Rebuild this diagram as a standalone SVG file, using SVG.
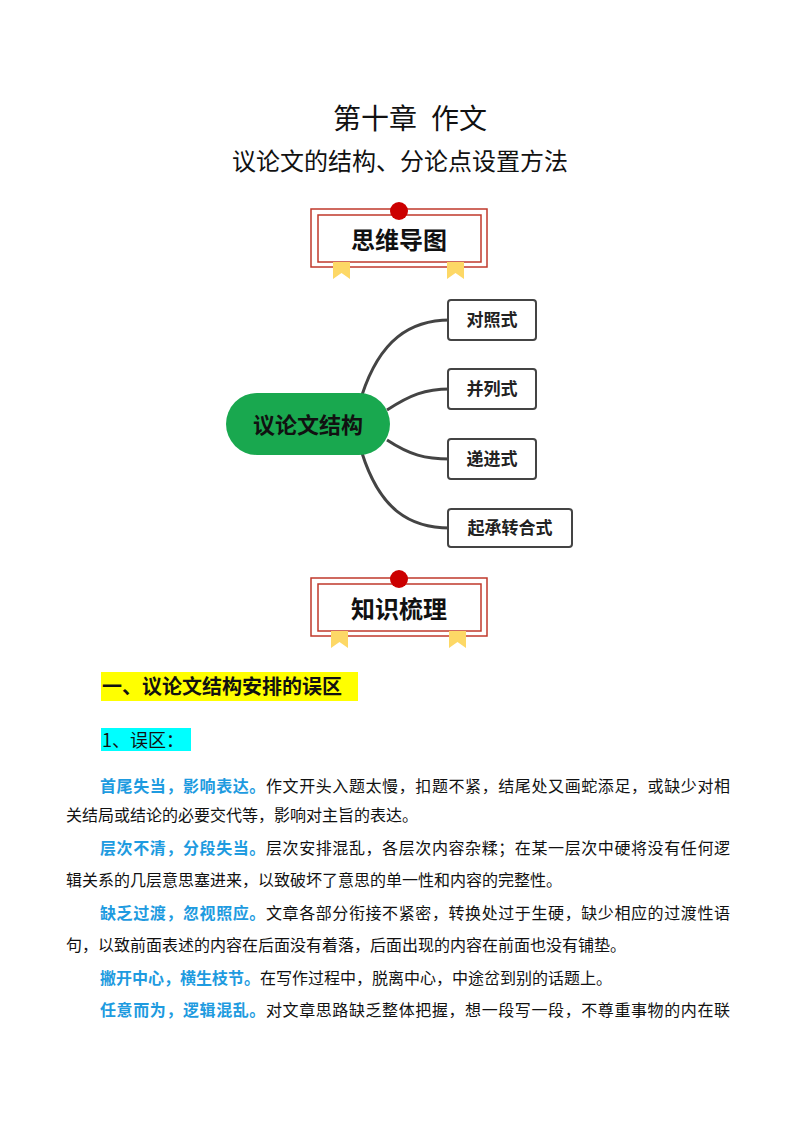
<svg xmlns="http://www.w3.org/2000/svg" width="800" height="1132" viewBox="0 0 800 1132">
<style>
text{font-family:"Noto Sans CJK SC","Liberation Sans",sans-serif;fill:#111}
.ser{font-family:"Noto Sans CJK SC",serif}
.node{fill:#fff;stroke:#444;stroke-width:2}
.nt{font-size:17px;font-weight:bold;text-anchor:middle;fill:#222}
.b{font-size:16px}
.hl{fill:#1e9be0;font-weight:bold}
.con{fill:none;stroke:#444;stroke-width:3}
.rib{fill:#fdd866}
</style>
<text x="333" y="129" font-size="28">第十章<tspan dx="14">作文</tspan></text>
<text x="400" y="170" font-size="24" text-anchor="middle">议论文的结构、分论点设置方法</text>

<g id="banner1">
<rect x="311" y="209" width="176" height="58" fill="#fff" stroke="#c0392b" stroke-width="1.5"/>
<rect x="318" y="215" width="163" height="47" fill="none" stroke="#c0392b" stroke-width="1.5"/>
<circle cx="399" cy="211" r="9" fill="#c00"/>
<path class="rib" d="M333 262h17v17l-8.5-6-8.5 6z"/>
<path class="rib" d="M447 262h17v17l-8.5-6-8.5 6z"/>
<text x="399" y="249" font-size="24" font-weight="bold" text-anchor="middle" fill="#222">思维导图</text>
</g>

<g id="connectors">
<path class="con" d="M362 395 C380 340,410 320,450 320"/>
<path class="con" d="M387 410 C410 395,425 389,450 389"/>
<path class="con" d="M387 440 C410 455,425 459,450 459"/>
<path class="con" d="M362 453 C380 510,410 528,450 528"/>
</g>
<g id="root">
<rect x="226" y="393" width="164" height="62" rx="31" fill="#19a84f"/>
<text x="308" y="433" font-size="22" font-weight="bold" text-anchor="middle" fill="#fff">议论文结构</text>
</g>
<g id="n1"><rect class="node" x="448" y="300" width="88" height="40" rx="3"/><text class="nt" x="492" y="326">对照式</text></g>
<g id="n2"><rect class="node" x="448" y="369" width="88" height="40" rx="3"/><text class="nt" x="492" y="395">并列式</text></g>
<g id="n3"><rect class="node" x="448" y="439" width="88" height="40" rx="3"/><text class="nt" x="492" y="465">递进式</text></g>
<g id="n4"><rect class="node" x="448" y="509" width="124" height="38" rx="3"/><text class="nt" x="510" y="534">起承转合式</text></g>

<g id="banner2">
<rect x="311" y="578" width="176" height="58" fill="#fff" stroke="#c0392b" stroke-width="1.5"/>
<rect x="318" y="584" width="163" height="47" fill="none" stroke="#c0392b" stroke-width="1.5"/>
<circle cx="399" cy="579" r="9" fill="#c00"/>
<path class="rib" d="M331 631h17v17l-8.5-6-8.5 6z"/>
<path class="rib" d="M449 631h17v17l-8.5-6-8.5 6z"/>
<text x="399" y="618" font-size="24" font-weight="bold" text-anchor="middle" fill="#222">知识梳理</text>
</g>

<rect x="101" y="672" width="257" height="29" fill="#ffff00"/>
<text x="102" y="694" font-size="20" font-weight="bold">一、议论文结构安排的误区</text>
<rect x="101" y="728" width="90" height="23" fill="#00ffff"/>
<text x="102" y="747" font-size="18" class="ser" fill="#222">1、误区：</text>

<g class="b">
<text class="b" x="100" y="792" textLength="630" lengthAdjust="spacing"><tspan class="hl">首尾失当，影响表达。</tspan>作文开头入题太慢，扣题不紧，结尾处又画蛇添足，或缺少对相</text>
<text class="b" x="66" y="821">关结局或结论的必要交代等，影响对主旨的表达。</text>
<text class="b" x="100" y="854" textLength="630" lengthAdjust="spacing"><tspan class="hl">层次不清，分段失当。</tspan>层次安排混乱，各层次内容杂糅；在某一层次中硬将没有任何逻</text>
<text class="b" x="66" y="886">辑关系的几层意思塞进来，以致破坏了意思的单一性和内容的完整性。</text>
<text class="b" x="100" y="919" textLength="630" lengthAdjust="spacing"><tspan class="hl">缺乏过渡，忽视照应。</tspan>文章各部分衔接不紧密，转换处过于生硬，缺少相应的过渡性语</text>
<text class="b" x="66" y="951">句，以致前面表述的内容在后面没有着落，后面出现的内容在前面也没有铺垫。</text>
<text class="b" x="100" y="984"><tspan class="hl">撇开中心，横生枝节。</tspan>在写作过程中，脱离中心，中途岔到别的话题上。</text>
<text class="b" x="100" y="1016" textLength="630" lengthAdjust="spacing"><tspan class="hl">任意而为，逻辑混乱。</tspan>对文章思路缺乏整体把握，想一段写一段，不尊重事物的内在联</text>
</g>
</svg>
